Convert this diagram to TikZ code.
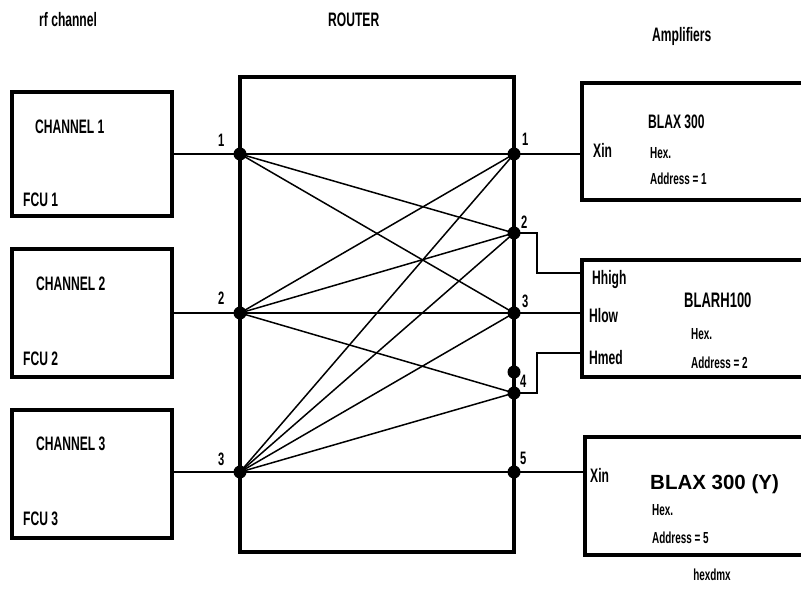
\documentclass[tikz,border=0pt]{standalone}
\usepackage{fontspec}
\setmainfont{Liberation Sans}
\newfontfamily\nar{Liberation Sans}[FakeStretch=0.62]
\begin{document}
\begin{tikzpicture}[x=1pt,y=-1pt,
  box/.style={draw, rectangle, line width=4pt, inner sep=0pt},
  dot/.style={circle, fill, inner sep=0pt, minimum size=13pt},
  wire/.style={line width=1.5pt},
  tx/.style={font=\nar\bfseries\fontsize{19.5}{20}\selectfont, inner sep=0pt, anchor=base west},
  sm/.style={font=\nar\bfseries\fontsize{16}{17}\selectfont, inner sep=0pt, anchor=base west},
  num/.style={font=\nar\bfseries\fontsize{18}{19}\selectfont, inner sep=0pt, anchor=base west}]
\useasboundingbox (0,0) rectangle (801,599);
\fill[white] (0,0) rectangle (801,599);

% boxes
\node[box, minimum width=160pt, minimum height=124pt] (ch1) at (92,154) {};
\node[box, minimum width=160pt, minimum height=128pt] (ch2) at (92,313) {};
\node[box, minimum width=160pt, minimum height=128pt] (ch3) at (92,474) {};
\node[box, minimum width=274pt, minimum height=475pt] (router) at (377,314.5) {};
\node[box, minimum width=258pt, minimum height=117pt] (amp1) at (711,141.5) {};
\node[box, minimum width=258pt, minimum height=117pt] (amp2) at (711,318.5) {};
\node[box, minimum width=255pt, minimum height=118pt] (amp3) at (712.5,496) {};

% ports
\node[dot] (L1) at (240,154) {};
\node[dot] (L2) at (240,313) {};
\node[dot] (L3) at (240,472) {};
\node[dot] (R1) at (514,154) {};
\node[dot] (R2) at (514,233) {};
\node[dot] (R3) at (514,313) {};
\node[dot] (R4a) at (514,372) {};
\node[dot] (R4) at (514,393) {};
\node[dot] (R5) at (514,472) {};

% channel to router
\draw[wire] (L1.center -| ch1.east) -- (L1.center);
\draw[wire] (L2.center -| ch2.east) -- (L2.center);
\draw[wire] (L3.center -| ch3.east) -- (L3.center);

% router cross connections
\draw[wire] (L1.center) -- (R1.center);
\draw[wire] (L1.center) -- (R2.center);
\draw[wire] (L1.center) -- (R3.center);
\draw[wire] (L2.center) -- (R1.center);
\draw[wire] (L2.center) -- (R2.center);
\draw[wire] (L2.center) -- (R3.center);
\draw[wire] (L2.center) -- (R4.center);
\draw[wire] (L3.center) -- (R1.center);
\draw[wire] (L3.center) -- (R2.center);
\draw[wire] (L3.center) -- (R3.center);
\draw[wire] (L3.center) -- (R4.center);
\draw[wire] (L3.center) -- (R5.center);

% router to amplifiers
\coordinate (hh) at (582,273);
\coordinate (hm) at (582,353);
\draw[wire] (R1.center) -- (R1.center -| amp1.west);
\draw[wire] (R2.center) -- (537,233) |- (hh);
\draw[wire] (R3.center) -- (R3.center -| amp2.west);
\draw[wire] (R4.center) -- (537,393) |- (hm);
\draw[wire] (R5.center) -- (R5.center -| amp3.west);

% headers
\node[tx] (h1) at (39,27) {rf channel};
\node[tx] (h2) at (328,27) {ROUTER};
\node[tx] (h3) at (652,42) {Amplifiers};

% channel labels
\node[tx] (c1) at (35,134) {CHANNEL 1};
\node[tx] (f1) at (23,207) {FCU 1};
\node[tx] (c2) at (36,290) {CHANNEL 2};
\node[tx] (f2) at (23,365) {FCU 2};
\node[tx] (c3) at (36,450) {CHANNEL 3};
\node[tx] (f3) at (23,525) {FCU 3};

% port numbers
\node[num] (n1) at (218,147) {1};
\node[num] (n2) at (218,304) {2};
\node[num] (n3) at (218,465) {3};
\node[num] (m1) at (522,146) {1};
\node[num] (m2) at (521,228) {2};
\node[num] (m3) at (522,307) {3};
\node[num] (m4) at (520,387) {4};
\node[num] (m5) at (520,464) {5};

% amplifier 1
\node[tx] (x1) at (593,158) {Xin};
\node[tx] (b1) at (648,129) {BLAX 300};
\node[sm] (e1) at (650,159) {Hex.};
\node[sm] (a1) at (650,185) {Address = 1};

% amplifier 2
\node[tx] (hi) at (592,284) {Hhigh};
\node[tx] (lo) at (589,322) {Hlow};
\node[tx] (md) at (589,364) {Hmed};
\node[tx, font=\nar\bfseries\fontsize{21}{22}\selectfont] (b2) at (684,307) {BLARH100};
\node[sm] (e2) at (691,339) {Hex.};
\node[sm] (a2) at (691,368) {Address = 2};

% amplifier 3
\node[tx] (x3) at (590,482) {Xin};
\node[tx, font=\bfseries\fontsize{20.5}{22}\selectfont] (b3) at (650,489.5) {BLAX 300 (Y)};
\node[sm] (e3) at (652,515) {Hex.};
\node[sm] (a3) at (652,543) {Address = 5};

\node[sm, anchor=base] (hx) at (712,580) {hexdmx};
\end{tikzpicture}
\end{document}
